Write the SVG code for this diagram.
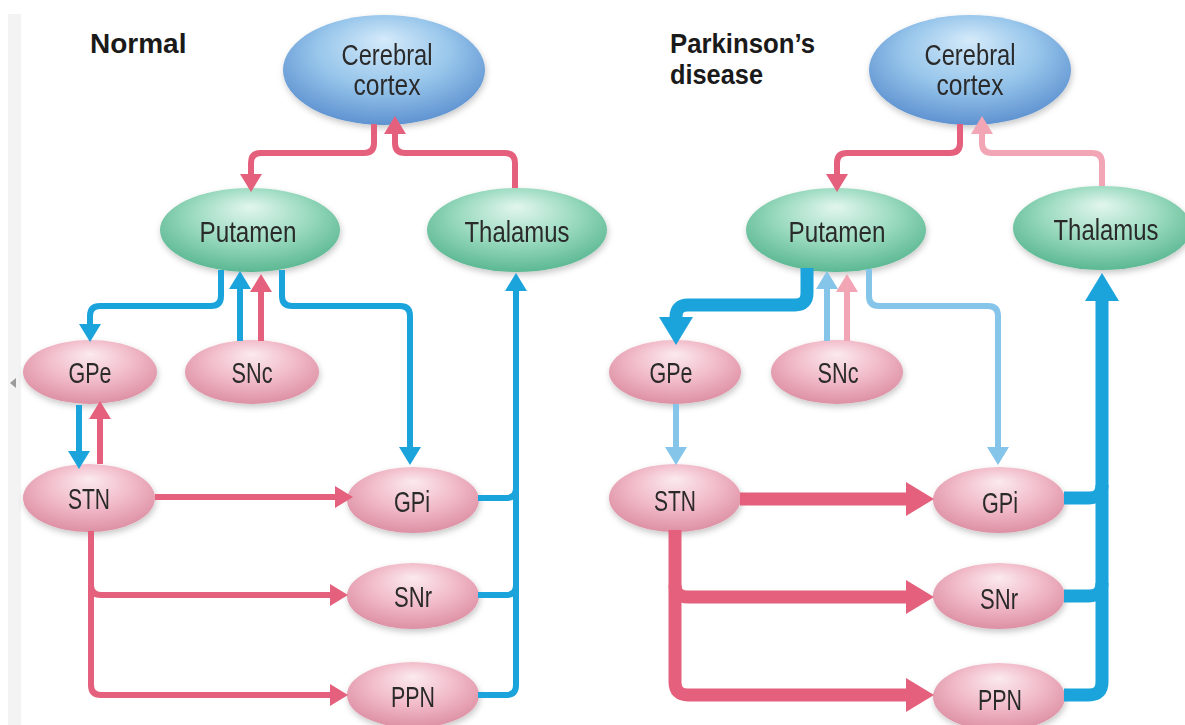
<svg xmlns="http://www.w3.org/2000/svg" width="1185" height="725" viewBox="0 0 1185 725">
<style>
.lbl{font-family:"Liberation Sans",Arial,sans-serif;font-size:29px;fill:#2a2a2a;text-anchor:middle}
.ttl{font-family:"Liberation Sans",Arial,sans-serif;font-size:28px;font-weight:bold;fill:#1a1a1a}
.c{fill:none;stroke-linejoin:round;stroke-linecap:butt}
.r{stroke:#e4607c;stroke-width:6}
.b{stroke:#1ba4dc;stroke-width:6}
.lr{stroke:#f2a5b4;stroke-width:6}
.lb{stroke:#86c5ea;stroke-width:6}
.rT{stroke:#e4607c;stroke-width:13}
.bT{stroke:#1ba4dc;stroke-width:13}
.blue{fill:url(#gB)}
.green{fill:url(#gG)}
.pink{fill:url(#gP)}
.node{filter:url(#sh)}
</style>
<defs>
<radialGradient id="gB" cx="50%" cy="40%" r="60%" fx="50%" fy="22%">
<stop offset="0" stop-color="#d4eafa"/><stop offset="0.55" stop-color="#98c6eb"/><stop offset="1" stop-color="#5f93d1"/>
</radialGradient>
<radialGradient id="gG" cx="50%" cy="40%" r="60%" fx="50%" fy="22%">
<stop offset="0" stop-color="#e2f6ee"/><stop offset="0.55" stop-color="#9adabf"/><stop offset="1" stop-color="#5cb893"/>
</radialGradient>
<radialGradient id="gP" cx="50%" cy="40%" r="60%" fx="50%" fy="22%">
<stop offset="0" stop-color="#fbeaef"/><stop offset="0.55" stop-color="#f1bac8"/><stop offset="1" stop-color="#dd90a4"/>
</radialGradient>
<filter id="sh" x="-20%" y="-20%" width="140%" height="150%">
<feDropShadow dx="1" dy="3" stdDeviation="3" flood-color="#000" flood-opacity="0.22"/>
</filter>
<marker id="mR" markerUnits="userSpaceOnUse" markerWidth="20" markerHeight="24" viewBox="0 -12 20 24" refX="1" refY="0" orient="auto"><path d="M0,-11 L18,0 L0,11 z" fill="#e4607c"/></marker>
<marker id="mB" markerUnits="userSpaceOnUse" markerWidth="20" markerHeight="24" viewBox="0 -12 20 24" refX="1" refY="0" orient="auto"><path d="M0,-11 L18,0 L0,11 z" fill="#1ba4dc"/></marker>
<marker id="mLR" markerUnits="userSpaceOnUse" markerWidth="20" markerHeight="24" viewBox="0 -12 20 24" refX="1" refY="0" orient="auto"><path d="M0,-11 L18,0 L0,11 z" fill="#f2a5b4"/></marker>
<marker id="mLB" markerUnits="userSpaceOnUse" markerWidth="20" markerHeight="24" viewBox="0 -12 20 24" refX="1" refY="0" orient="auto"><path d="M0,-11 L18,0 L0,11 z" fill="#86c5ea"/></marker>
<marker id="mRT" markerUnits="userSpaceOnUse" markerWidth="30" markerHeight="36" viewBox="0 -18 30 36" refX="1" refY="0" orient="auto"><path d="M0,-17 L28,0 L0,17 z" fill="#e4607c"/></marker>
<marker id="mBT" markerUnits="userSpaceOnUse" markerWidth="30" markerHeight="36" viewBox="0 -18 30 36" refX="1" refY="0" orient="auto"><path d="M0,-17 L28,0 L0,17 z" fill="#1ba4dc"/></marker>
</defs>
<rect width="1185" height="725" fill="#ffffff"/>
<rect x="8" y="14" width="13" height="711" fill="#f3f3f3"/>
<polygon points="10,383 16,378 16,388" fill="#9a9a9a"/>

<text class="ttl" x="90" y="53">Normal</text>
<text class="ttl" x="670" y="53" textLength="145" lengthAdjust="spacingAndGlyphs">Parkinson’s</text>
<text class="ttl" x="670" y="84" textLength="93" lengthAdjust="spacingAndGlyphs">disease</text>

<!-- LEFT nodes -->
<g id="cortexL" class="node"><ellipse class="blue" cx="384" cy="70" rx="101" ry="55"/><text class="lbl" x="387" y="65" textLength="91" lengthAdjust="spacingAndGlyphs">Cerebral</text><text class="lbl" x="387" y="95" textLength="67" lengthAdjust="spacingAndGlyphs">cortex</text></g>
<g id="putamenL" class="node"><ellipse class="green" cx="250" cy="230" rx="90" ry="42"/><text class="lbl" x="248" y="242" textLength="97" lengthAdjust="spacingAndGlyphs">Putamen</text></g>
<g id="thalamusL" class="node"><ellipse class="green" cx="517" cy="230" rx="90" ry="42"/><text class="lbl" x="517" y="242" textLength="105" lengthAdjust="spacingAndGlyphs">Thalamus</text></g>
<g id="gpeL" class="node"><ellipse class="pink" cx="90" cy="372" rx="67" ry="32"/><text class="lbl" x="90" y="383" textLength="43" lengthAdjust="spacingAndGlyphs">GPe</text></g>
<g id="sncL" class="node"><ellipse class="pink" cx="252" cy="372" rx="67" ry="32"/><text class="lbl" x="252" y="383" textLength="41" lengthAdjust="spacingAndGlyphs">SNc</text></g>
<g id="stnL" class="node"><ellipse class="pink" cx="89" cy="498" rx="66" ry="34"/><text class="lbl" x="89" y="509" textLength="42" lengthAdjust="spacingAndGlyphs">STN</text></g>
<g id="gpiL" class="node"><ellipse class="pink" cx="413" cy="500" rx="66" ry="33"/><text class="lbl" x="412" y="512" textLength="36" lengthAdjust="spacingAndGlyphs">GPi</text></g>
<g id="snrL" class="node"><ellipse class="pink" cx="413" cy="596" rx="66" ry="33"/><text class="lbl" x="413" y="607" textLength="38" lengthAdjust="spacingAndGlyphs">SNr</text></g>
<g id="ppnL" class="node"><ellipse class="pink" cx="413" cy="695" rx="66" ry="33"/><text class="lbl" x="413" y="707" textLength="44" lengthAdjust="spacingAndGlyphs">PPN</text></g>

<!-- RIGHT nodes -->
<g id="cortexR" class="node"><ellipse class="blue" cx="970" cy="70" rx="101" ry="55"/><text class="lbl" x="970" y="65" textLength="91" lengthAdjust="spacingAndGlyphs">Cerebral</text><text class="lbl" x="970" y="95" textLength="67" lengthAdjust="spacingAndGlyphs">cortex</text></g>
<g id="putamenR" class="node"><ellipse class="green" cx="836" cy="230" rx="90" ry="42"/><text class="lbl" x="837" y="242" textLength="97" lengthAdjust="spacingAndGlyphs">Putamen</text></g>
<g id="thalamusR" class="node"><ellipse class="green" cx="1102" cy="228" rx="89" ry="42"/><text class="lbl" x="1106" y="240" textLength="105" lengthAdjust="spacingAndGlyphs">Thalamus</text></g>
<g id="gpeR" class="node"><ellipse class="pink" cx="675" cy="372" rx="66" ry="32"/><text class="lbl" x="671" y="383" textLength="43" lengthAdjust="spacingAndGlyphs">GPe</text></g>
<g id="sncR" class="node"><ellipse class="pink" cx="837" cy="372" rx="66" ry="32"/><text class="lbl" x="838" y="383" textLength="41" lengthAdjust="spacingAndGlyphs">SNc</text></g>
<g id="stnR" class="node"><ellipse class="pink" cx="675" cy="498" rx="66" ry="34"/><text class="lbl" x="675" y="511" textLength="42" lengthAdjust="spacingAndGlyphs">STN</text></g>
<g id="gpiR" class="node"><ellipse class="pink" cx="999" cy="500" rx="66" ry="33"/><text class="lbl" x="1000" y="513" textLength="36" lengthAdjust="spacingAndGlyphs">GPi</text></g>
<g id="snrR" class="node"><ellipse class="pink" cx="999" cy="596" rx="66" ry="33"/><text class="lbl" x="999" y="609" textLength="38" lengthAdjust="spacingAndGlyphs">SNr</text></g>
<g id="ppnR" class="node"><ellipse class="pink" cx="999" cy="697" rx="66" ry="34"/><text class="lbl" x="1000" y="710" textLength="44" lengthAdjust="spacingAndGlyphs">PPN</text></g>

<g id="connectors">
<!-- left -->
<path class="c r" marker-end="url(#mR)" d="M374,124 V143 Q374,153 364,153 H261 Q251,153 251,163 V175"/>
<path class="c r" marker-end="url(#mR)" d="M515,188 V163 Q515,153 505,153 H405 Q395,153 395,143 V133"/>
<path class="c b" marker-end="url(#mB)" d="M221,270 V296 Q221,306 211,306 H100 Q90,306 90,316 V325"/>
<path class="c b" marker-end="url(#mB)" d="M240,341 V288"/>
<path class="c r" marker-end="url(#mR)" d="M261,341 V291"/>
<path class="c b" marker-end="url(#mB)" d="M282,270 V296 Q282,306 292,306 H400 Q410,306 410,316 V448"/>
<path class="c b" marker-end="url(#mB)" d="M79,405 V452"/>
<path class="c r" marker-end="url(#mR)" d="M100,464 V418"/>
<path class="c r" marker-end="url(#mR)" d="M155,497 H336"/>
<path class="c r" marker-end="url(#mR)" d="M91,531 V685 Q91,695 101,695 H331"/>
<path class="c r" marker-end="url(#mR)" d="M91,585 Q91,595 101,595 H331"/>
<path class="c b" marker-end="url(#mB)" d="M478,695 H506 Q516,695 516,685 V290"/>
<path class="c b" d="M478,498 H506 Q516,498 516,488"/>
<path class="c b" d="M478,595 H506 Q516,595 516,585"/>
<!-- right -->
<path class="c r" marker-end="url(#mR)" d="M960,124 V143 Q960,153 950,153 H847 Q837,153 837,163 V175"/>
<path class="c lr" marker-end="url(#mLR)" d="M1102,186 V163 Q1102,153 1092,153 H992 Q982,153 982,143 V133"/>
<path class="c bT" marker-end="url(#mBT)" d="M807,268 V293 Q807,305 795,305 H688 Q676,305 676,317 V318"/>
<path class="c lb" marker-end="url(#mLB)" d="M827,341 V288"/>
<path class="c lr" marker-end="url(#mLR)" d="M847,341 V291"/>
<path class="c lb" marker-end="url(#mLB)" d="M869,269 V296 Q869,306 879,306 H988 Q998,306 998,316 V448"/>
<path class="c lb" marker-end="url(#mLB)" d="M676,404 V448"/>
<path class="c rT" marker-end="url(#mRT)" d="M740,499 H907"/>
<path class="c rT" marker-end="url(#mRT)" d="M675,530 V682 Q675,695 688,695 H907"/>
<path class="c rT" marker-end="url(#mRT)" d="M675,585 Q675,597 688,597 H907"/>
<path class="c bT" marker-end="url(#mBT)" d="M1064,695 H1089 Q1102,695 1102,682 V300"/>
<path class="c bT" d="M1064,498 H1089 Q1102,498 1102,485"/>
<path class="c bT" d="M1064,596 H1089 Q1102,596 1102,583"/>
</g>
</svg>
